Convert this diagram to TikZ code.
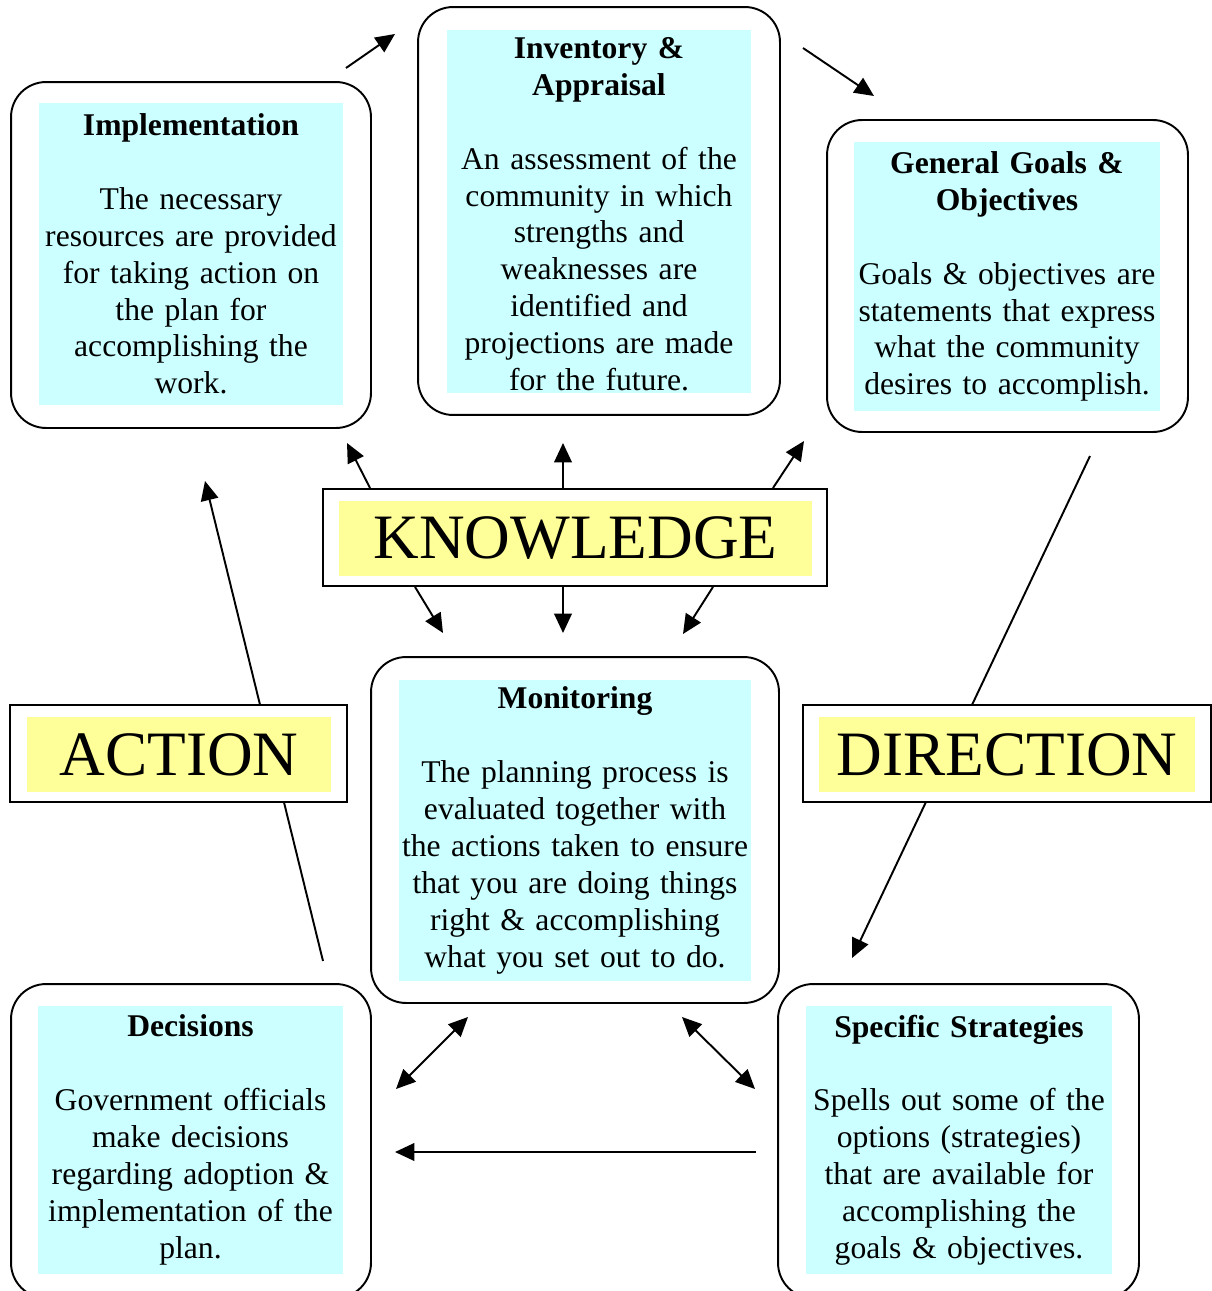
\documentclass[tikz,border=0pt]{standalone}
\usepackage{fontspec}
\setmainfont{Liberation Serif}
\usetikzlibrary{arrows.meta}
\definecolor{cardcyan}{HTML}{CCFFFF}
\definecolor{tagyellow}{HTML}{FFFF99}
\tikzset{
  frame/.style={draw,line width=1.1pt,rounded corners=0.7cm,fill=white},
  card/.style={fill=cardcyan,inner sep=0pt,align=center,font=\fontsize{18}{21}\selectfont},
  tagbox/.style={draw,line width=1.1pt,fill=white,minimum height=1.94cm},
  tag/.style={fill=tagyellow,inner sep=0pt,minimum height=1.5cm,font=\fontsize{36}{40}\selectfont},
  flow/.style={line width=1.1pt,-{Triangle[length=11pt,width=10pt]}},
  twoway/.style={line width=1.1pt,{Triangle[length=11pt,width=10pt]}-{Triangle[length=11pt,width=10pt]}}
}
\begin{document}
\begin{tikzpicture}[x=0.02cm,y=-0.02cm]
\useasboundingbox (0,0) rectangle (1212,1291);
\coordinate (goalout) at (1090,456);\coordinate (stratin) at (852,958);
\coordinate (decout) at (323,961);\coordinate (implin) at (205,481);
\draw[flow] (goalout)--(stratin);
\draw[flow] (decout)--(implin);
\node[frame,minimum width=7.2cm,minimum height=6.92cm] (impl) at (191,255) {};
\node[card,text width=6.08cm,minimum height=6.04cm] (implT) at (191,254) {\textbf{Implementation}\\[21pt]The necessary\\resources are provided\\for taking action on\\the plan for\\accomplishing the\\work.};
\node[frame,minimum width=7.24cm,minimum height=8.16cm] (inv) at (599,211) {};
\node[card,text width=6.08cm,minimum height=7.26cm] (invT) at (599,211.5) {\rule{0pt}{15pt}\textbf{Inventory \&}\\\textbf{Appraisal}\\[21pt]An assessment of the\\community in which\\strengths and\\weaknesses are\\identified and\\projections are made\\for the future.};
\node[frame,minimum width=7.22cm,minimum height=6.24cm] (goal) at (1007.5,276) {};
\node[card,text width=6.12cm,minimum height=5.38cm] (goalT) at (1007,276.5) {\textbf{General Goals \&}\\\textbf{Objectives}\\[21pt]Goals \& objectives are\\statements that express\\what the community\\desires to accomplish.};
\node[frame,minimum width=8.16cm,minimum height=6.92cm] (mon) at (575,830) {};
\node[card,text width=7.04cm,minimum height=6.02cm] (monT) at (575,830.5) {\textbf{Monitoring}\\[21pt]The planning process is\\evaluated together with\\the actions taken to ensure\\that you are doing things\\right \& accomplishing\\what you set out to do.};
\node[frame,minimum width=7.2cm,minimum height=6.28cm] (dec) at (191,1141) {};
\node[card,text width=6.1cm,minimum height=5.36cm] (decT) at (190.5,1140) {\textbf{Decisions}\\[21pt]Government officials\\make decisions\\regarding adoption \&\\implementation of the\\plan.};
\node[frame,minimum width=7.22cm,minimum height=6.28cm] (strat) at (958.5,1141) {};
\node[card,text width=6.12cm,minimum height=5.36cm] (stratT) at (959,1140) {\textbf{Specific Strategies}\\[21pt]Spells out some of the\\options (strategies)\\that are available for\\accomplishing the\\goals \& objectives.};
\node[tagbox,minimum width=10.08cm] (know) at (575,537.5) {};
\node[tag,minimum width=9.46cm] (knowT) at (575.5,538.5) {KNOWLEDGE};
\node[tagbox,minimum width=6.74cm] (act) at (178.5,753.5) {};
\node[tag,minimum width=6.08cm] (actT) at (179,754.5) {ACTION};
\node[tagbox,minimum width=8.16cm] (dir) at (1007,753.5) {};
\node[tag,minimum width=7.52cm] (dirT) at (1007,754.5) {DIRECTION};
\coordinate (i1) at (346,68);\coordinate (i2) at (395,34);
\coordinate (g1) at (803,48);\coordinate (g2) at (874,96);
\draw[flow] (i1)--(i2);
\draw[flow] (g1)--(g2);
\coordinate (ku1) at (347,443);\coordinate (ku2) at (563,443);\coordinate (ku3) at (804,441);
\coordinate (kd1) at (443,633);\coordinate (kd2) at (563,633);\coordinate (kd3) at (683,634);
\draw[flow] ([xshift=-4.1cm]know.north)--(ku1);
\draw[flow] ([xshift=-0.24cm]know.north)--(ku2);
\draw[flow] ([xshift=3.96cm]know.north)--(ku3);
\draw[flow] ([xshift=-3.2cm]know.south)--(kd1);
\draw[flow] ([xshift=-0.24cm]know.south)--(kd2);
\draw[flow] ([xshift=2.76cm]know.south)--(kd3);
\coordinate (m1) at (396,1089);\coordinate (m2) at (468,1017);
\coordinate (m3) at (682,1017);\coordinate (m4) at (755,1089);
\coordinate (s1) at (756,1152);\coordinate (d1) at (395,1152);
\draw[twoway] (m1)--(m2);
\draw[twoway] (m3)--(m4);
\draw[flow] (s1)--(d1);
\end{tikzpicture}
\end{document}
